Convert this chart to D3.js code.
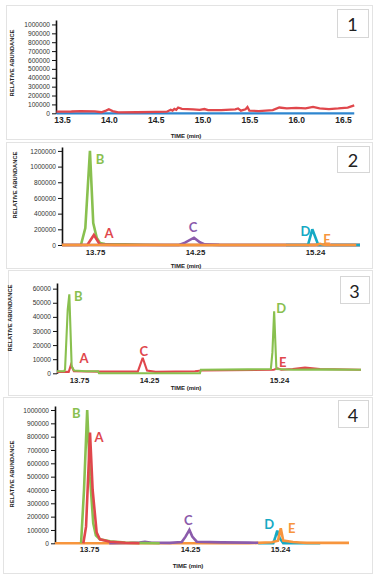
<!DOCTYPE html>
<html>
<head>
<meta charset="utf-8">
<script src="https://cdn.jsdelivr.net/npm/d3@7"></script>
<style>
  body { margin: 0; background: #fff; }
  svg { display: block; }
</style>
</head>
<body>
<div id="chart"></div>
<script>
// ---- data: [time (min), abundance] ----
const p1Red = [[13.44, 18000], [13.6, 20000], [13.7, 25000], [13.85, 22000], [13.92, 12000],
  [13.97, 30000], [14.0, 45000], [14.04, 25000], [14.1, 10000], [14.3, 12000], [14.5, 15000],
  [14.62, 18000], [14.66, 40000], [14.68, 30000], [14.7, 50000], [14.72, 40000], [14.74, 65000],
  [14.78, 50000], [14.9, 45000], [14.97, 38000], [15.02, 48000], [15.06, 35000], [15.2, 35000],
  [15.35, 45000], [15.38, 55000], [15.41, 30000], [15.46, 45000], [15.48, 70000], [15.5, 30000],
  [15.6, 25000], [15.75, 35000], [15.82, 65000], [15.9, 55000], [16.0, 60000], [16.1, 55000],
  [16.18, 72000], [16.25, 55000], [16.35, 48000], [16.45, 55000], [16.55, 65000], [16.62, 90000]];
const p1Blue = [[13.44, 0], [14.5, 0], [15.5, 0], [16.62, 0]];

const p2Green = [[13.6, 0], [13.686, 0], [13.706, 215000], [13.727, 1200000], [13.742, 280000],
  [13.759, 90000], [13.775, 25000], [13.8, 12000], [13.9, 8000], [14.0, 3000], [14.1, 0], [15.6, 0]];
const p2Red = [[13.6, 0], [13.715, 0], [13.745, 128000], [13.775, 5000], [13.85, 0], [15.6, 0]];
const p2Purple = [[13.6, 0], [14.17, 0], [14.2, 30000], [14.245, 93000], [14.29, 35000],
  [14.33, 8000], [14.45, 2000], [14.6, 0], [15.6, 0]];
const p2Cyan = [[15.0, 0], [15.182, 0], [15.218, 200000], [15.266, 0], [15.6, 0]];
const p2Orange = [[13.6, 0], [15.24, 0], [15.265, 8000], [15.28, 15000], [15.3, 6000],
  [15.33, 0], [15.57, 0]];

const p3Green = [[13.6, 1500], [13.65, 1500], [13.655, 3000], [13.673, 45000], [13.684, 56000],
  [13.7, 5000], [13.716, 2000], [13.8, 1500], [13.886, 1500], [13.893, 0], [14.638, 0],
  [14.645, 2500], [15.0, 2800], [15.178, 3000], [15.19, 15000], [15.203, 44000], [15.22, 3000],
  [15.3, 2500], [15.45, 2800], [15.6, 2500]];
const p3Red = [[13.6, 1000], [13.68, 1000], [13.695, 6000], [13.715, 1500], [13.9, 1200],
  [14.17, 1200], [14.205, 11000], [14.236, 2000], [14.3, 1000], [14.6, 1500], [14.65, 2000],
  [15.2, 2500], [15.23, 3500], [15.25, 2500], [15.3, 3000], [15.354, 4000], [15.42, 3000],
  [15.6, 2500]];

const p4Green = [[13.715, 0], [13.728, 400000], [13.742, 1000000], [13.755, 500000],
  [13.771, 150000], [13.784, 60000], [13.804, 30000], [13.854, 15000], [13.93, 5000],
  [14.0, 2000], [14.1, 0]];
const p4Red = [[13.725, 0], [13.737, 125000], [13.755, 830000], [13.768, 400000],
  [13.788, 80000], [13.804, 30000], [13.854, 12000], [13.93, 4000], [14.0, 0]];
const p4Purple = [[13.85, 0], [13.95, 2000], [14.0, 5000], [14.027, 12000], [14.06, 4000],
  [14.15, 3000], [14.209, 10000], [14.228, 50000], [14.247, 100000], [14.275, 50000],
  [14.324, 12000], [14.6, 7000], [14.9, 5000], [15.0, 4000]];
const p4Cyan = [[15.0, 0], [15.166, 0], [15.19, 50000], [15.21, 95000], [15.235, 40000],
  [15.257, 0], [15.45, 0]];
const p4Orange = [[13.6, 0], [14.9, 0], [15.0, 3000], [15.15, 8000], [15.218, 20000],
  [15.244, 112000], [15.257, 20000], [15.308, 10000], [15.344, 6000], [15.38, 3000], [15.6, 3000]];

// peak letters: [letter, time, abundance]
const p2Labels = [['B', 13.727, 1200000], ['A', 13.745, 128000], ['C', 14.245, 93000],
  ['D', 15.218, 200000], ['E', 15.28, 15000]];
const p3Labels = [['B', 13.684, 56000], ['A', 13.695, 6000], ['C', 14.205, 11000],
  ['D', 15.203, 44000], ['E', 15.23, 3500]];
const p4Labels = [['B', 13.742, 1000000], ['A', 13.755, 830000], ['C', 14.247, 100000],
  ['D', 15.21, 95000], ['E', 15.244, 112000]];

const p1XTicks = [13.5, 14.0, 14.5, 15.0, 15.5, 16.0, 16.5];
const peakTicks = [13.75, 14.25, 15.24];

const colors = {
  red: '#e0474c', blue: '#2e86cf', green: '#89c04f',
  purple: '#8b5bab', cyan: '#16a9c4', orange: '#f7953d'
};

const width = 378;
const height = 579;

const svg = d3.select('#chart')
    .append('svg')
    .attr('width', width)
    .attr('height', height);

const numFont = '"Liberation Sans", Arial, sans-serif';
const labFont = 'Lato, "Open Sans", sans-serif';

// the x axis of panels 2-4 is only marked at the three retention times,
// so it is a piecewise scale through those marks
const timeMarks = [13.6, 13.75, 14.25, 15.24, 15.6];

const panels = [
  {
    num: '1', frame: [6, 5, 366, 134], box: [337, 9, 31, 28],
    axisX: 56, yTop: 20, yBottom: 113.3, yMax: 1050000, yStep: 100000, yTickMax: 1000000,
    x: d3.scaleLinear().domain([13.5, 16.5]).range([62, 343]),
    xTicks: p1XTicks, xFormat: d3.format('.1f'), xFont: 8.5, xPad: 4,
    yLabel: [12, 63], timeLabel: [186, 135.5],
    series: [[p1Blue, 'blue'], [p1Red, 'red']], stroke: 2.3, labels: []
  },
  {
    num: '2', frame: [6, 142, 366, 126], box: [337, 146, 32, 26],
    axisX: 62, yTop: 147, yBottom: 245, yMax: 1250000, yStep: 200000, yTickMax: 1200000,
    x: d3.scaleLinear().domain(timeMarks).range([62, 95, 195, 315, 360]),
    xTicks: peakTicks, xFormat: d3.format('.2f'), xFont: 7.8, xPad: 4,
    yLabel: [15, 185], timeLabel: [186, 266],
    series: [[p2Green, 'green'], [p2Red, 'red'], [p2Purple, 'purple'], [p2Cyan, 'cyan'],
      [p2Orange, 'orange']],
    stroke: 2.6, labels: p2Labels,
    colorsOf: ['green', 'red', 'purple', 'cyan', 'orange'],
    offsets: [[10, 8], [15, -2], [-1, -11], [-7, 2], [7, -5]]
  },
  {
    num: '3', frame: [8, 270, 364, 125], box: [340, 276, 29, 27],
    axisX: 57, yTop: 283, yBottom: 373.3, yMax: 64000, yStep: 10000, yTickMax: 60000,
    x: d3.scaleLinear().domain(timeMarks).range([57, 79, 149, 279, 361]),
    xTicks: peakTicks, xFormat: d3.format('.2f'), xFont: 7.8, xPad: 4,
    yLabel: [10, 318], timeLabel: [186, 387.5],
    series: [[p3Red, 'red'], [p3Green, 'green']],
    stroke: 2.1, labels: p3Labels,
    colorsOf: ['green', 'red', 'red', 'green', 'red'],
    offsets: [[9, 2], [13, -7], [1, -7], [7, -3], [5, -6]]
  },
  {
    num: '4', frame: [3, 397, 369, 176], box: [338, 400, 30, 27],
    axisX: 55, yTop: 406, yBottom: 543.3, yMax: 1030000, yStep: 100000, yTickMax: 1000000,
    x: d3.scaleLinear().domain(timeMarks).range([55, 89, 190, 280, 349]),
    xTicks: peakTicks, xFormat: d3.format('.2f'), xFont: 7.8, xPad: 3,
    yLabel: [12, 474], timeLabel: [188, 565.5],
    series: [[p4Cyan, 'cyan'], [p4Orange, 'orange'], [p4Purple, 'purple'], [p4Green, 'green'],
      [p4Red, 'red']],
    stroke: 2.6, labels: p4Labels,
    colorsOf: ['green', 'red', 'purple', 'cyan', 'orange'],
    offsets: [[-11, 3], [9, 4], [-1, -10], [-8, -7], [11, 0]]
  }
];

panels.forEach(function(p) {
  const g = svg.append('g');

  g.append('rect')
      .attr('x', p.frame[0] + 0.5)
      .attr('y', p.frame[1] + 0.5)
      .attr('width', p.frame[2])
      .attr('height', p.frame[3])
      .attr('fill', 'none')
      .attr('stroke', '#e3e3e3');

  const y = d3.scaleLinear()
      .domain([0, p.yMax])
      .range([p.yBottom, p.yTop]);

  // y axis
  const yAxis = g.append('g')
      .attr('transform', 'translate(' + p.axisX + ',0)')
      .call(d3.axisLeft(y)
          .tickValues(d3.range(0, p.yTickMax + 1, p.yStep))
          .tickFormat(d3.format('d'))
          .tickSize(4)
          .tickSizeOuter(0)
          .tickPadding(2));
  yAxis.select('.domain').attr('stroke', '#111').attr('stroke-width', 1.6);
  yAxis.selectAll('.tick line').attr('stroke', '#111').attr('stroke-width', 1);
  yAxis.selectAll('.tick text')
      .attr('fill', '#333')
      .style('font-family', numFont)
      .style('font-size', '6.6px');

  // x axis labels only
  const xAxis = g.append('g')
      .attr('transform', 'translate(0,' + p.yBottom + ')')
      .call(d3.axisBottom(p.x)
          .tickValues(p.xTicks)
          .tickFormat(p.xFormat)
          .tickSize(0)
          .tickPadding(p.xPad));
  xAxis.select('.domain').remove();
  xAxis.selectAll('.tick text')
      .attr('fill', '#222')
      .style('font-family', numFont)
      .style('font-weight', 'bold')
      .style('font-size', p.xFont + 'px');

  // series
  const line = d3.line()
      .x(function(d) {
        return p.x(d[0]);
      })
      .y(function(d) {
        return y(d[1]);
      });

  p.series.forEach(function(s) {
    g.append('path')
        .datum(s[0])
        .attr('d', line)
        .attr('fill', 'none')
        .attr('stroke', colors[s[1]])
        .attr('stroke-width', p.stroke)
        .attr('stroke-linejoin', 'miter')
        .attr('stroke-miterlimit', 3);
  });

  // peak letters
  p.labels.forEach(function(l, i) {
    g.append('text')
        .attr('x', p.x(l[1]) + p.offsets[i][0])
        .attr('y', y(l[2]) + p.offsets[i][1])
        .attr('text-anchor', 'middle')
        .attr('dominant-baseline', 'central')
        .attr('fill', colors[p.colorsOf[i]])
        .style('font-family', labFont)
        .style('font-weight', 'bold')
        .style('font-size', '13px')
        .text(l[0]);
  });

  // axis titles
  g.append('text')
      .attr('transform', 'translate(' + p.yLabel[0] + ',' + p.yLabel[1] + ') rotate(-90)')
      .attr('text-anchor', 'middle')
      .attr('dominant-baseline', 'central')
      .attr('fill', '#222')
      .style('font-family', numFont)
      .style('font-weight', 'bold')
      .style('font-size', '5.8px')
      .text('RELATIVE ABUNDANCE');

  g.append('text')
      .attr('x', p.timeLabel[0])
      .attr('y', p.timeLabel[1])
      .attr('text-anchor', 'middle')
      .attr('dominant-baseline', 'central')
      .attr('fill', '#222')
      .style('font-family', numFont)
      .style('font-weight', 'bold')
      .style('font-size', '6px')
      .text('TIME (min)');

  // panel number box
  g.append('rect')
      .attr('x', p.box[0] + 0.5)
      .attr('y', p.box[1] + 0.5)
      .attr('width', p.box[2])
      .attr('height', p.box[3])
      .attr('fill', '#fff')
      .attr('stroke', '#d6d6d6');

  g.append('text')
      .attr('x', p.box[0] + p.box[2] / 2)
      .attr('y', p.box[1] + p.box[3] / 2 + 1)
      .attr('text-anchor', 'middle')
      .attr('dominant-baseline', 'central')
      .attr('fill', '#222')
      .style('font-family', labFont)
      .style('font-size', '18px')
      .text(p.num);
});
</script>
</body>
</html>
